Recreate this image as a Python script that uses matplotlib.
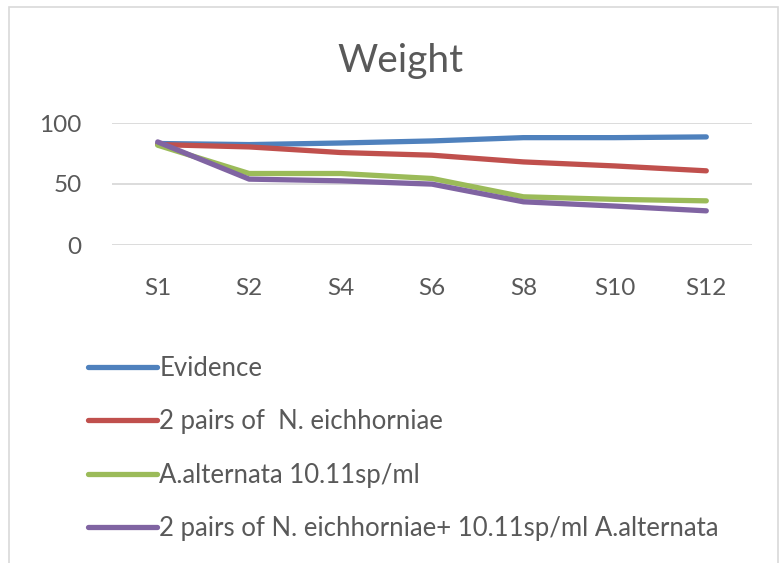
import matplotlib
matplotlib.use("Agg")
import matplotlib.pyplot as plt
from matplotlib.patches import Rectangle

plt.rcParams['font.family'] = ['Lato', 'DejaVu Sans']

stages = ["S1", "S2", "S4", "S6", "S8", "S10", "S12"]
evidence = [83.2, 82.3, 83.6, 85.3, 88.0, 88.0, 88.6]
n_eich = [82.3, 80.4, 75.8, 73.6, 68.1, 64.8, 60.8]
a_alt = [81.8, 58.6, 58.6, 54.5, 39.5, 37.4, 36.2]
combined = [84.5, 54.0, 52.6, 49.9, 35.4, 31.9, 28.0]

labels = ["Evidence",
          "2 pairs of  N. eichhorniae",
          "A.alternata 10.11sp/ml",
          "2 pairs of N. eichhorniae+ 10.11sp/ml A.alternata"]
colors = ["#4F81BD", "#C0504D", "#9BBB59", "#8064A2"]
yticks = [0, 50, 100]

W, H = 782, 563
fig = plt.figure(figsize=(W / 100, H / 100), dpi=100)
ax = fig.add_axes([112 / W, 1 - 245 / H, 640 / W, 122 / H])

x = list(range(len(stages)))
for vals, lab, c in zip([evidence, n_eich, a_alt, combined], labels, colors):
    ax.plot(x, vals, color=c, lw=3.8, label=lab, solid_capstyle='round')

ax.set_xlim(-0.5, len(stages) - 0.5)
ax.set_ylim(0, 100)
ax.set_yticks(yticks)
ax.set_xticks(x)
ax.set_xticklabels(stages)
ax.grid(axis='y', color='#d9d9d9', lw=1.3)
ax.set_axisbelow(True)
for s in ax.spines.values():
    s.set_visible(False)
ax.tick_params(length=0, labelsize=17.5, labelcolor='#595959')
ax.tick_params(axis='y', pad=22)
ax.tick_params(axis='x', pad=24)

fig.text(400 / W, 1 - 61 / H, "Weight", ha='center', va='center',
         fontsize=28, color='#595959')

leg = ax.legend(loc='upper left', bbox_to_anchor=(88 / W, 1 - 356 / H),
                bbox_transform=fig.transFigure, frameon=False,
                fontsize=18.5, labelspacing=1.1, handlelength=2.7,
                handletextpad=0.08, borderaxespad=0, borderpad=0)
for t in leg.get_texts():
    t.set_color('#595959')

fig.add_artist(Rectangle((9 / W, -0.1), 769 / W, 1.1 - 7 / H,
                         transform=fig.transFigure, fill=False,
                         edgecolor='#d9d9d9', lw=1.2))

fig.savefig("out.png", dpi=100, facecolor='white')
